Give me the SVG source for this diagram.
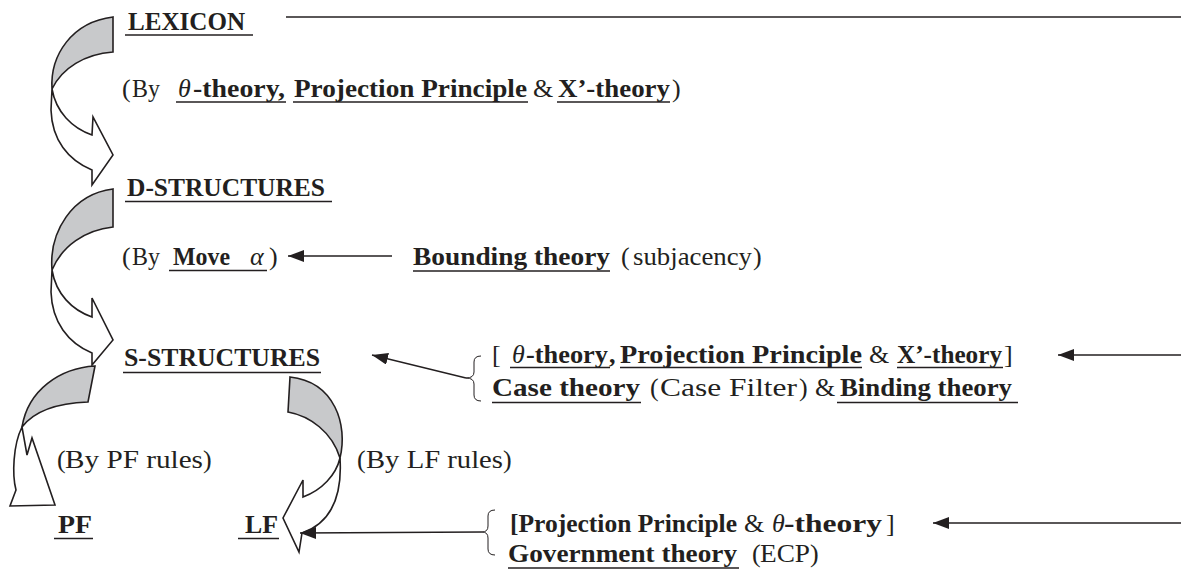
<svg xmlns="http://www.w3.org/2000/svg" width="1181" height="574" viewBox="0 0 1181 574">
<defs>
<style>
.t{font-family:"Liberation Serif","Times New Roman",serif;font-size:26px;fill:#231f20}
.b{font-weight:bold}
.i{font-style:italic}
.u{stroke:#231f20;stroke-width:1.6}
.blk{stroke:#231f20;stroke-width:1.6;stroke-linejoin:miter}
.back{fill:#c8c9cb}
.front{fill:#fff}
.conn{stroke:#231f20;stroke-width:1.3;fill:none}
.br{stroke:#231f20;stroke-width:1;fill:none}
</style>
<marker id="ah" viewBox="0 0 16 12" refX="16" refY="6" markerWidth="16" markerHeight="12" markerUnits="userSpaceOnUse" orient="auto"><path d="M0,0 L16,6 L0,12 Z" fill="#231f20"/></marker>
</defs>
<rect width="1181" height="574" fill="#fff"/>

<g id="connectors">
<line class="conn" x1="286" y1="17" x2="1181" y2="17"/>
<g id="arrow-lex-d">
<path class="blk back" d="M113,17 L113,52 C85,54 62,68 52,89 C50,55 72,22 113,17 Z"/>
<path class="blk front" d="M52,89 L51,110 C52,140 68,160 92,170 L92,185 L113,155 L93,117 L92,135 C72,128 56,112 52,89 Z"/>
</g>
<g id="arrow-d-s">
<path class="blk back" d="M113,189 L113,227 C85,230 62,246 52,270 C49,232 72,194 113,189 Z"/>
<path class="blk front" d="M52,270 L51,292 C52,322 68,343 92,353 L92,365 L113,340 L92,298 L92,317 C72,310 56,294 52,270 Z"/>
</g>
<g id="arrow-s-pf">
<path class="blk back" d="M95,366 L88,402 C60,403 35,410 22,427 C28,390 60,368 95,366 Z"/>
<path class="blk front" d="M22,427 L27,455 L32,438 L55,505 L10,506 L16,490 C12,475 13,445 22,427 Z"/>
</g>
<g id="arrow-s-lf">
<path class="blk back" d="M290,377 L288,412 C310,416 332,432 340,458 C348,425 335,382 290,377 Z"/>
<path class="blk front" d="M340,458 C336,475 322,490 303,497 L303,480 L283,518 L299,552 L302,533 C325,525 343,505 340,458 Z"/>
</g>
<line class="conn" x1="392" y1="256" x2="288" y2="256" marker-end="url(#ah)"/>
<line class="conn" x1="466" y1="378" x2="372" y2="355" marker-end="url(#ah)"/>
<line class="conn" x1="1181" y1="355" x2="1058" y2="355" marker-end="url(#ah)"/>
<line class="conn" x1="482" y1="532" x2="300" y2="533" marker-end="url(#ah)"/>
<line class="conn" x1="1181" y1="523" x2="933" y2="523" marker-end="url(#ah)"/>
</g>

<g id="lexicon">
<text class="t b" x="128" y="30" textLength="117" lengthAdjust="spacingAndGlyphs">LEXICON</text>
<line class="u" x1="125" y1="35" x2="253" y2="35"/>
</g>

<g id="d-principles">
<text class="t" x="122" y="97">(</text>
<text class="t" x="132" y="97" textLength="28" lengthAdjust="spacingAndGlyphs">By</text>
<text class="t i" x="178" y="97">θ</text>
<text class="t b" x="193" y="97" textLength="92" lengthAdjust="spacingAndGlyphs">-theory,</text>
<text class="t b" x="294" y="97" textLength="233" lengthAdjust="spacingAndGlyphs">Projection Principle</text>
<text class="t" x="533" y="97">&amp;</text>
<text class="t b" x="558" y="97" textLength="112" lengthAdjust="spacingAndGlyphs">X’-theory</text>
<text class="t" x="672" y="97">)</text>
<line class="u" x1="176" y1="102" x2="286" y2="102"/>
<line class="u" x1="293" y1="102" x2="528" y2="102"/>
<line class="u" x1="557" y1="102" x2="670" y2="102"/>
</g>

<g id="d-structures">
<text class="t b" x="127" y="196" textLength="198" lengthAdjust="spacingAndGlyphs">D-STRUCTURES</text>
<line class="u" x1="125" y1="201.5" x2="332" y2="201.5"/>
</g>

<g id="move-alpha">
<text class="t" x="122" y="265">(</text>
<text class="t" x="132" y="265" textLength="28" lengthAdjust="spacingAndGlyphs">By</text>
<text class="t b" x="173" y="265" textLength="57" lengthAdjust="spacingAndGlyphs">Move</text>
<text class="t i" x="250" y="265">α</text>
<text class="t" x="269" y="265">)</text>
<line class="u" x1="169" y1="270.5" x2="267" y2="270.5"/>
</g>

<g id="bounding">
<text class="t b" x="413" y="265" textLength="197" lengthAdjust="spacingAndGlyphs">Bounding theory</text>
<line class="u" x1="413" y1="271" x2="610" y2="271"/>
<text class="t" x="621" y="265">(</text>
<text class="t" x="633" y="265" textLength="119" lengthAdjust="spacingAndGlyphs">subjacency</text>
<text class="t" x="753" y="265">)</text>
</g>

<g id="s-structures">
<text class="t b" x="124" y="366" textLength="196" lengthAdjust="spacingAndGlyphs">S-STRUCTURES</text>
<line class="u" x1="123" y1="372.5" x2="321" y2="372.5"/>
</g>

<g id="s-principles">
<path class="br" d="M481,356 Q474,356 474,362 L474,372 Q474,378 466,378 Q474,378 474,384 L474,395 Q474,401 481,401"/>
<text class="t" x="492" y="363">[</text>
<text class="t i" x="512" y="363">θ</text>
<text class="t b" x="526" y="363" textLength="82" lengthAdjust="spacingAndGlyphs">-theory</text>
<text class="t b" x="609" y="363">,</text>
<text class="t b" x="620" y="363" textLength="242" lengthAdjust="spacingAndGlyphs">Projection Principle</text>
<text class="t" x="869" y="363">&amp;</text>
<text class="t b" x="897" y="363" textLength="105" lengthAdjust="spacingAndGlyphs">X’-theory</text>
<text class="t" x="1004" y="363">]</text>
<line class="u" x1="510" y1="367.5" x2="610" y2="367.5"/>
<line class="u" x1="620" y1="367.5" x2="862" y2="367.5"/>
<line class="u" x1="897" y1="367.5" x2="1003" y2="367.5"/>
<text class="t b" x="492" y="396" textLength="148" lengthAdjust="spacingAndGlyphs">Case theory</text>
<line class="u" x1="492" y1="402.5" x2="641" y2="402.5"/>
<text class="t" x="650" y="396">(</text>
<text class="t" x="660" y="396" textLength="137" lengthAdjust="spacingAndGlyphs">Case Filter</text>
<text class="t" x="799" y="396">)</text>
<text class="t" x="815" y="396">&amp;</text>
<text class="t b" x="840" y="396" textLength="172" lengthAdjust="spacingAndGlyphs">Binding theory</text>
<line class="u" x1="837" y1="402.5" x2="1018" y2="402.5"/>
</g>

<g id="pf-rules">
<text class="t" x="57" y="468">(</text>
<text class="t" x="65" y="468" textLength="138" lengthAdjust="spacingAndGlyphs">By PF rules</text>
<text class="t" x="203" y="468">)</text>
</g>

<g id="lf-rules">
<text class="t" x="357" y="468">(</text>
<text class="t" x="366" y="468" textLength="137" lengthAdjust="spacingAndGlyphs">By LF rules</text>
<text class="t" x="503" y="468">)</text>
</g>

<g id="pf">
<text class="t b" x="58" y="533" textLength="34" lengthAdjust="spacingAndGlyphs">PF</text>
<line class="u" x1="54" y1="538.5" x2="93" y2="538.5"/>
</g>

<g id="lf">
<text class="t b" x="245" y="533" textLength="33" lengthAdjust="spacingAndGlyphs">LF</text>
<line class="u" x1="238" y1="538.5" x2="279" y2="538.5"/>
</g>

<g id="lf-principles">
<path class="br" d="M495,510 Q488,510 488,516 L488,526 Q488,532 482,532 Q488,532 488,538 L488,549 Q488,555 495,555"/>
<text class="t b" x="510" y="532" textLength="227" lengthAdjust="spacingAndGlyphs">[Projection Principle</text>
<text class="t" x="744" y="532">&amp;</text>
<text class="t i" x="772" y="532">θ</text>
<text class="t b" x="784" y="532" textLength="98" lengthAdjust="spacingAndGlyphs">-theory</text>
<text class="t" x="886" y="532">]</text>
<text class="t b" x="508" y="562" textLength="229" lengthAdjust="spacingAndGlyphs">Government theory</text>
<line class="u" x1="508" y1="568" x2="739" y2="568"/>
<text class="t" x="752" y="562">(</text>
<text class="t" x="760" y="562" textLength="50" lengthAdjust="spacingAndGlyphs">ECP</text>
<text class="t" x="810" y="562">)</text>
</g>
</svg>
